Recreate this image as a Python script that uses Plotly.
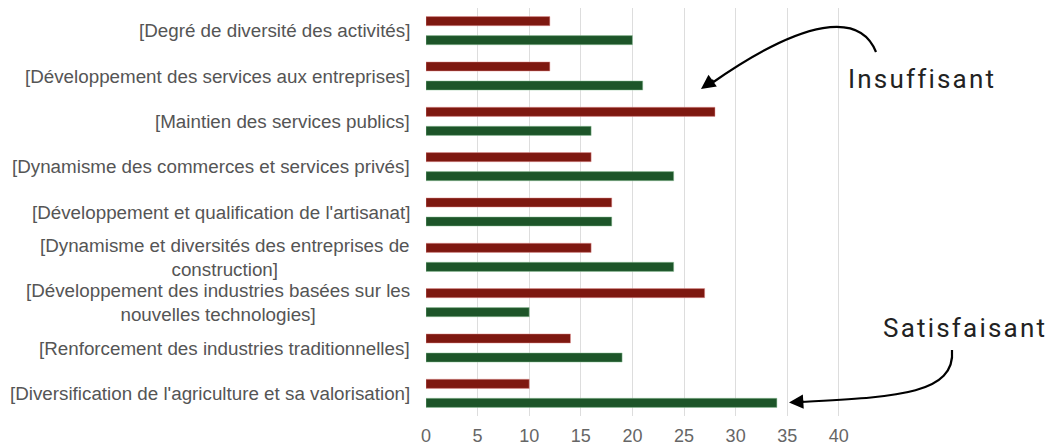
import plotly.graph_objects as go

categories = [
    "[Degré de diversité des activités]",
    "[Développement des services aux entreprises]",
    "[Maintien des services publics]",
    "[Dynamisme des commerces et services privés]",
    "[Développement et qualification de l'artisanat]",
    "[Dynamisme et diversités des entreprises de<br>construction]",
    "[Développement des industries basées sur les<br>nouvelles technologies]",
    "[Renforcement des industries traditionnelles]",
    "[Diversification de l'agriculture et sa valorisation]",
]
insuffisant = [12, 12, 28, 16, 18, 16, 27, 14, 10]
satisfaisant = [20, 21, 16, 24, 18, 24, 10, 19, 34]
x_ticks = [0, 5, 10, 15, 20, 25, 30, 35, 40]

# page offset caused by the default 8px body margin
OFF = 8
W, H = 1055 - OFF, 448 - OFF
L, R, T, B = 426, 844, 8, 416  # plot area in page pixels

def px(x):
    return (x - L) / (R - L)

def py(y):
    return (B - y) / (B - T)

fig = go.Figure()
fig.add_trace(go.Bar(y=categories, x=insuffisant, orientation="h", name="Insuffisant",
                     marker=dict(color="#7e1810", line=dict(color="rgba(230,150,150,0.8)", width=0.6))))
fig.add_trace(go.Bar(y=categories, x=satisfaisant, orientation="h", name="Satisfaisant",
                     marker=dict(color="#1d5529", line=dict(color="rgba(150,200,160,0.8)", width=0.6))))

annotations = []
for c in categories:
    annotations.append(dict(x=0, xref="paper", y=c, yref="y", text=c, showarrow=False,
                            xanchor="right", xshift=-14, align="center",
                            font=dict(family="Liberation Sans, Arial", size=18.8, color="#555555")))

def bez(p0, p1, p2, p3):
    return "M {} {} C {} {}, {} {}, {} {}".format(px(p0[0]), py(p0[1]), px(p1[0]), py(p1[1]),
                                                 px(p2[0]), py(p2[1]), px(p3[0]), py(p3[1]))

shapes = [
    dict(type="path", xref="paper", yref="paper", path=bez((876, 52), (860, 12), (805, 18), (712, 83)),
         line=dict(color="black", width=2.2)),
    dict(type="path", xref="paper", yref="paper", path=bez((952, 350), (956, 396), (890, 397), (800, 402)),
         line=dict(color="black", width=2.2)),
]

annotations.append(dict(x=px(701), y=py(89), xref="paper", yref="paper", ax=14, ay=-10, text="",
                        showarrow=True, arrowhead=2, arrowsize=1.3, arrowwidth=2.2, arrowcolor="black"))
annotations.append(dict(x=px(789), y=py(402.5), xref="paper", yref="paper", ax=16, ay=-1, text="",
                        showarrow=True, arrowhead=2, arrowsize=1.3, arrowwidth=2.2, arrowcolor="black"))
annotations.append(dict(x=px(846), y=py(79), xref="paper", yref="paper", xanchor="left", yanchor="middle",
                        text='<span style="letter-spacing:2.2px">Insuffisant</span>', showarrow=False,
                        font=dict(family="Roboto", size=26, color="#222222")))
annotations.append(dict(x=px(881), y=py(328), xref="paper", yref="paper", xanchor="left", yanchor="middle",
                        text='<span style="letter-spacing:2.2px">Satisfaisant</span>', showarrow=False,
                        font=dict(family="Roboto", size=26, color="#222222")))

fig.update_layout(
    width=W, height=H,
    margin=dict(l=L - OFF, r=(1055 - OFF) - (R - OFF), t=T - OFF, b=(448 - OFF) - (B - OFF)),
    plot_bgcolor="white", paper_bgcolor="white",
    barmode="group", bargap=0.16, bargroupgap=0.52,
    showlegend=False,
    annotations=annotations, shapes=shapes,
    xaxis=dict(range=[0, 40.5], tickvals=x_ticks, showgrid=True, gridcolor="#dddddd", gridwidth=1,
               zeroline=False, showline=False, ticks="", ticklabelstandoff=7,
               tickfont=dict(family="Liberation Sans, Arial", size=18, color="#666666")),
    yaxis=dict(range=[8.5, -0.5], showticklabels=False, showgrid=False, zeroline=False, showline=False),
)
fig.write_html("out.html")
